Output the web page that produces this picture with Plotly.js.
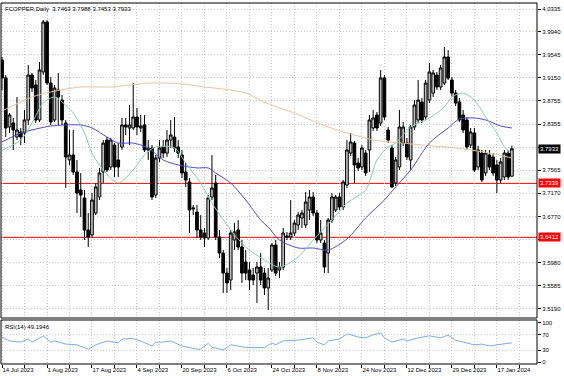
<!DOCTYPE html>
<html>
<head>
<meta charset="utf-8">
<script src="https://cdn.plot.ly/plotly-3.0.1.min.js"></script>
<style>html,body{margin:0;padding:0;background:#fff;}#chart{width:564px;height:376px;}</style>
</head>
<body>
<div id="chart"></div>
<script>
// ---- data ----
const dateLabels = ['14 Jul 2023','1 Aug 2023','17 Aug 2023','4 Sep 2023','20 Sep 2023','6 Oct 2023','24 Oct 2023','8 Nov 2023','24 Nov 2023','12 Dec 2023','29 Dec 2023','17 Jan 2024'];

const opens = [3.9459,3.9150,3.8308,3.8376,3.8136,3.8222,3.8204,3.8428,3.9201,3.9029,
3.8428,3.9253,4.0112,3.9063,3.8428,3.8943,3.8771,3.8376,3.7741,3.7826,
3.7535,3.7225,3.7088,3.6538,3.6452,3.6829,3.7105,3.7535,3.8084,3.7621,
3.7998,3.7741,3.7964,3.8342,3.8291,3.8291,3.8480,3.8291,3.8342,3.7912,
3.7947,3.7139,3.7775,3.7964,3.7860,3.8084,3.8136,3.7964,3.7826,3.7535,
3.7363,3.6898,3.6847,3.6538,3.6486,3.6401,3.7105,3.7345,3.6418,3.6142,
3.5798,3.5679,3.6366,3.6538,3.6246,3.5988,3.5850,3.5764,3.5798,3.5902,
3.5798,3.5542,3.5850,3.6280,3.5850,3.5902,3.6435,3.6418,3.6486,3.6624,
3.6744,3.6624,3.6881,3.7105,3.6829,3.6366,3.6314,3.6142,3.6710,3.6881,
3.7105,3.6933,3.7311,3.7860,3.8032,3.7689,3.7621,3.7860,3.7912,3.8291,
3.8514,3.8376,3.9150,3.8256,3.7947,3.7345,3.7621,3.8032,3.8032,3.7741,
3.8308,3.8428,3.8737,3.8480,3.8771,3.8891,3.9201,3.8995,3.9063,3.9510,
3.9115,3.8891,3.8737,3.8514,3.8428,3.7998,3.8204,3.7621,3.7860,3.7517,
3.7826,3.7792,3.7655,3.7397,3.7449,3.7860,3.7463];

const highs = [3.9510,3.9201,3.8548,3.8463,3.8823,3.8291,3.8600,3.9373,3.9235,3.9115,
3.9425,4.0146,4.0146,3.9167,3.9029,3.9235,3.8857,3.8428,3.8256,3.8256,
3.7741,3.7517,3.7225,3.6829,3.7173,3.7345,3.7604,3.8084,3.8136,3.8119,
3.8032,3.8032,3.8463,3.8463,3.8685,3.9063,3.8634,3.8514,3.8514,3.8084,
3.7998,3.7826,3.8084,3.8084,3.8256,3.8428,3.8480,3.8084,3.7912,3.7689,
3.7432,3.6967,3.6967,3.6795,3.6573,3.7139,3.7826,3.7483,3.6538,3.6194,
3.5885,3.6538,3.6658,3.6710,3.6366,3.6194,3.5988,3.5885,3.5988,3.6142,
3.5885,3.5885,3.6314,3.6366,3.5988,3.6573,3.6504,3.7053,3.6710,3.6847,
3.6881,3.7191,3.7225,3.7191,3.6881,3.6710,3.6366,3.6744,3.7173,3.7139,
3.7173,3.7397,3.8084,3.8204,3.8067,3.7775,3.7998,3.7912,3.8514,3.8600,
3.8566,3.9287,3.9201,3.8308,3.7998,3.7792,3.8600,3.8394,3.8119,3.8342,
3.8771,3.9115,3.8806,3.9115,3.9407,3.9287,3.9253,3.9373,3.9682,3.9630,
3.9167,3.8943,3.8806,3.8600,3.8480,3.8291,3.8291,3.7981,3.7912,3.7912,
3.7912,3.7860,3.7741,3.7775,3.7912,3.7912,3.7988];

const lows = [3.8943,3.8136,3.8204,3.7912,3.8084,3.7998,3.8032,3.8342,3.8909,3.8376,
3.8394,3.9201,3.9029,3.8342,3.8394,3.8342,3.8342,3.7260,3.7655,3.7483,
3.6829,3.6761,3.6366,3.6246,3.6401,3.6795,3.7053,3.7345,3.7535,3.7569,
3.7449,3.7449,3.7912,3.8170,3.7998,3.8256,3.8170,3.8222,3.7878,3.7741,
3.7053,3.7088,3.7707,3.7775,3.7792,3.7947,3.7878,3.7775,3.7432,3.7277,
3.6486,3.6795,3.6401,3.6366,3.6246,3.6366,3.7053,3.6366,3.6057,3.5455,
3.5455,3.5507,3.6194,3.6194,3.5627,3.5679,3.5507,3.5593,3.5283,3.5593,
3.5421,3.5163,3.5816,3.5747,3.5713,3.5850,3.6366,3.6366,3.6435,3.6538,
3.6573,3.6573,3.6710,3.6778,3.6314,3.6314,3.5798,3.5798,3.6658,3.6847,
3.6881,3.6881,3.7260,3.7809,3.7345,3.7552,3.7569,3.7466,3.7535,3.8239,
3.8239,3.8325,3.8428,3.8032,3.7260,3.7294,3.7569,3.7981,3.7741,3.7569,
3.8256,3.8376,3.8376,3.8428,3.8719,3.8823,3.8943,3.8943,3.9029,3.9115,
3.8840,3.8668,3.8394,3.8204,3.7912,3.7947,3.7535,3.7569,3.7363,3.7466,
3.7569,3.7466,3.7173,3.7345,3.7397,3.7397,3.7453];

const closes = [3.9150,3.8291,3.8514,3.8256,3.8256,3.8136,3.8428,3.9201,3.8978,3.8428,
3.9287,4.0112,3.9063,3.8394,3.8978,3.8823,3.8428,3.7792,3.7826,3.7535,
3.7173,3.7139,3.6538,3.6418,3.7053,3.7277,3.7517,3.8032,3.7569,3.8084,
3.7621,3.7621,3.8342,3.8308,3.8342,3.8480,3.8308,3.8325,3.7912,3.7947,
3.7105,3.7775,3.7947,3.7860,3.8084,3.8170,3.7947,3.7860,3.7517,3.7397,
3.6881,3.6916,3.6538,3.6418,3.6401,3.7088,3.7260,3.6418,3.6142,3.5798,
3.5627,3.6486,3.6504,3.6246,3.5798,3.5798,3.5679,3.5679,3.5902,3.5679,
3.5542,3.5713,3.6280,3.5798,3.5902,3.6486,3.6418,3.6486,3.6658,3.6795,
3.6829,3.7019,3.7105,3.6829,3.6366,3.6486,3.5902,3.6710,3.7105,3.7105,
3.6933,3.7363,3.7912,3.8050,3.7655,3.7604,3.7947,3.7517,3.8428,3.8463,
3.8291,3.9150,3.8480,3.8084,3.7277,3.7741,3.8308,3.8308,3.7792,3.8308,
3.8685,3.8771,3.8428,3.9063,3.9253,3.9235,3.8995,3.9322,3.9510,3.9150,
3.8891,3.8719,3.8428,3.8256,3.7964,3.8222,3.7569,3.7912,3.7397,3.7860,
3.7621,3.7517,3.7397,3.7707,3.7860,3.7449,3.7933];

// moving averages, read at sample bars
const maFastBars = [0,5,8,11,14,16,19,22,24,27,31,35,38,41,46,49,53,56,61,65,70,74,79,83,88,92,97,100,103,105,109,114,118,120,123,126,129,132,134,136];
const maFastVals = [3.7912,3.8084,3.8376,3.8719,3.8823,3.8737,3.8548,3.8204,3.7860,3.7569,3.7345,3.7569,3.7826,3.7964,3.7947,3.7689,3.7345,3.7001,3.6538,3.6246,3.6022,3.5902,3.6074,3.6366,3.6710,3.7001,3.7225,3.7741,3.7964,3.8032,3.8308,3.8463,3.8651,3.8823,3.8891,3.8771,3.8480,3.8204,3.7964,3.7860];
const maMidBars = [0,5,8,13,21,24,28,31,35,39,43,47,52,55,57,61,65,69,71,74,79,83,87,92,97,102,105,109,114,119,122,126,129,133,136];
const maMidVals = [3.8050,3.8204,3.8256,3.8325,3.8342,3.8291,3.8136,3.8032,3.8032,3.7947,3.7741,3.7655,3.7604,3.7604,3.7517,3.7345,3.7053,3.6710,3.6590,3.6366,3.6229,3.6229,3.6194,3.6383,3.6744,3.7053,3.7277,3.7569,3.8032,3.8291,3.8445,3.8463,3.8428,3.8325,3.8291];
const maSlowBars = [0,8,13,21,29,34,40,48,54,61,65,70,74,78,83,87,92,96,99,104,112,121,130,136];
const maSlowVals = [3.8582,3.8823,3.8909,3.8995,3.8995,3.9029,3.9064,3.9046,3.8995,3.8943,3.8892,3.8737,3.8634,3.8548,3.8411,3.8308,3.8204,3.8136,3.8084,3.8050,3.7998,3.7947,3.7861,3.7775];

// RSI(14), read at sample bars
const rsiBars = [0,2,5,7,8,11,13,14,17,20,23,25,28,31,32,35,37,40,41,43,45,48,52,53,55,56,59,61,63,65,70,72,73,75,79,81,83,84,86,87,90,92,93,95,97,99,101,102,104,107,108,111,114,117,119,121,123,126,128,130,132,134,136];
const rsiVals = [64,54,51,59,51,67,51,54,46,44,33,44,54,49,59,60,54,41,51,51,54,41,33,33,48,38,31,44,41,37,37,49,44,54,56,59,62,51,44,54,59,72,70,64,62,70,74,62,51,59,54,62,67,62,69,56,51,44,46,41,44,46,49.19];

// price grid levels; labels hidden behind the price boxes are blank in the reference
const priceTicks = [4.0335,3.9940,3.9545,3.9150,3.8755,3.8355,3.7960,3.7565,3.7170,3.6770,3.6375,3.5980,3.5585,3.5190];
const priceLabels = ['4.0335','3.9940','3.9545','3.9150','3.8755','3.8355','','3.7565','3.7170','3.6770','','3.5980','3.5585','3.5190'];
const levels = [3.7339, 3.6412];
const lastPrice = 3.7933;
const rsiLevels = [30, 70];
const rsiTicks = [0, 30, 70, 100];
const titleText = 'FCOPPER,Daily  3.7463 3.7988 3.7453 3.7933';
const rsiText = 'RSI(14) 49.1946';

// ---- build ----
const barIdx = opens.map((_, i) => i);
const gridBars = [];
const gridText = [];
for (let b = 0; b <= 138; b += 6) {
  gridBars.push(b);
  gridText.push(b % 12 === 0 && dateLabels[b / 12] ? dateLabels[b / 12] : '');
}

const FONT = 'Liberation Sans, Arial, sans-serif';
const GRID = '#c4c4c4';

const traces = [
  {type:'candlestick', x:barIdx, open:opens, high:highs, low:lows, close:closes,
   xaxis:'x', yaxis:'y', hoverinfo:'skip', showlegend:false, whiskerwidth:0,
   increasing:{line:{color:'#000', width:1}, fillcolor:'#bdbdbd'},
   decreasing:{line:{color:'#000', width:1}, fillcolor:'#000'}},
  {type:'scatter', mode:'lines', x:maSlowBars, y:maSlowVals, xaxis:'x', yaxis:'y',
   line:{color:'#e8c3a0', width:1, shape:'spline', smoothing:0.8}, hoverinfo:'skip'},
  {type:'scatter', mode:'lines', x:maMidBars, y:maMidVals, xaxis:'x', yaxis:'y',
   line:{color:'#4b4bd0', width:1, shape:'spline', smoothing:0.8}, hoverinfo:'skip'},
  {type:'scatter', mode:'lines', x:maFastBars, y:maFastVals, xaxis:'x', yaxis:'y',
   line:{color:'#86cdb0', width:1, shape:'spline', smoothing:0.8}, hoverinfo:'skip'},
  {type:'scatter', mode:'lines', x:rsiBars, y:rsiVals, xaxis:'x', yaxis:'y2',
   line:{color:'#7aaeea', width:1}, hoverinfo:'skip'}
];

const mainDomain = [0.1274, 1];
const rsiDomain = [0, 0.1219];

const shapes = [];
levels.forEach(v => shapes.push({type:'line', xref:'paper', yref:'y', x0:0, x1:1, y0:v, y1:v,
  line:{color:'#ff0000', width:1}, layer:'between'}));
rsiLevels.forEach(v => shapes.push({type:'line', xref:'paper', yref:'y2', x0:0, x1:1, y0:v, y1:v,
  line:{color:GRID, width:1, dash:'1px,2px'}, layer:'between'}));
shapes.push({type:'rect', xref:'paper', yref:'paper', x0:0, x1:1, y0:mainDomain[0], y1:mainDomain[1],
  line:{color:'#000', width:1}, fillcolor:'rgba(0,0,0,0)'});
shapes.push({type:'rect', xref:'paper', yref:'paper', x0:0, x1:1, y0:rsiDomain[0], y1:rsiDomain[1],
  line:{color:'#000', width:1}, fillcolor:'rgba(0,0,0,0)'});

const annotations = [
  {xref:'paper', yref:'paper', x:0, y:1, xanchor:'left', yanchor:'top', xshift:2, yshift:-1,
   text:titleText, showarrow:false, font:{family:FONT, size:6, color:'#000'}},
  {xref:'paper', yref:'paper', x:0, y:rsiDomain[1], xanchor:'left', yanchor:'top', xshift:2, yshift:-2,
   text:rsiText, showarrow:false, font:{family:FONT, size:6, color:'#000'}},
  {xref:'paper', yref:'y', x:1, y:lastPrice, xanchor:'left', yanchor:'middle', xshift:1,
   text:lastPrice.toFixed(4), showarrow:false, bgcolor:'#000', borderpad:1,
   font:{family:FONT, size:6, color:'#fff'}}
];
levels.forEach(v => annotations.push({xref:'paper', yref:'y', x:1, y:v, xanchor:'left', yanchor:'middle', xshift:1,
  text:v.toFixed(4), showarrow:false, bgcolor:'#ff0000', borderpad:1,
  font:{family:FONT, size:6, color:'#fff'}}));

const layout = {
  width:564, height:376,
  margin:{l:1, r:27, t:3, b:12, pad:0},
  paper_bgcolor:'#fff', plot_bgcolor:'#fff',
  showlegend:false,
  font:{family:FONT, size:6, color:'#000'},
  boxgap:0.15, boxgroupgap:0.15,
  xaxis:{domain:[0,1], anchor:'y2', range:[-0.27,142.7], tickmode:'array', tickvals:gridBars, ticktext:gridText,
    ticks:'outside', ticklen:3, tickcolor:'#000', showgrid:true, gridcolor:GRID, griddash:'1px,2px',
    zeroline:false, showline:false, rangeslider:{visible:false}, ticklabelposition:'outside right',
    tickfont:{family:FONT, size:6, color:'#000'}, fixedrange:true},
  yaxis:{domain:mainDomain, anchor:'x', side:'right', range:[3.5026,4.0438], tickmode:'array',
    tickvals:priceTicks, ticktext:priceLabels, ticks:'outside', ticklen:3, tickcolor:'#000',
    showgrid:true, gridcolor:GRID, griddash:'1px,2px', zeroline:false, showline:false,
    tickfont:{family:FONT, size:6, color:'#000'}, fixedrange:true},
  yaxis2:{domain:rsiDomain, anchor:'x', side:'right', range:[-5.1,107.7], tickmode:'array',
    tickvals:rsiTicks, ticktext:rsiTicks.map(String), ticks:'outside', ticklen:3, tickcolor:'#000',
    showgrid:false, zeroline:false, showline:false,
    tickfont:{family:FONT, size:6, color:'#000'}, fixedrange:true},
  shapes:shapes,
  annotations:annotations
};

Plotly.newPlot('chart', traces, layout, {displayModeBar:false, staticPlot:true});
</script>
</body>
</html>
